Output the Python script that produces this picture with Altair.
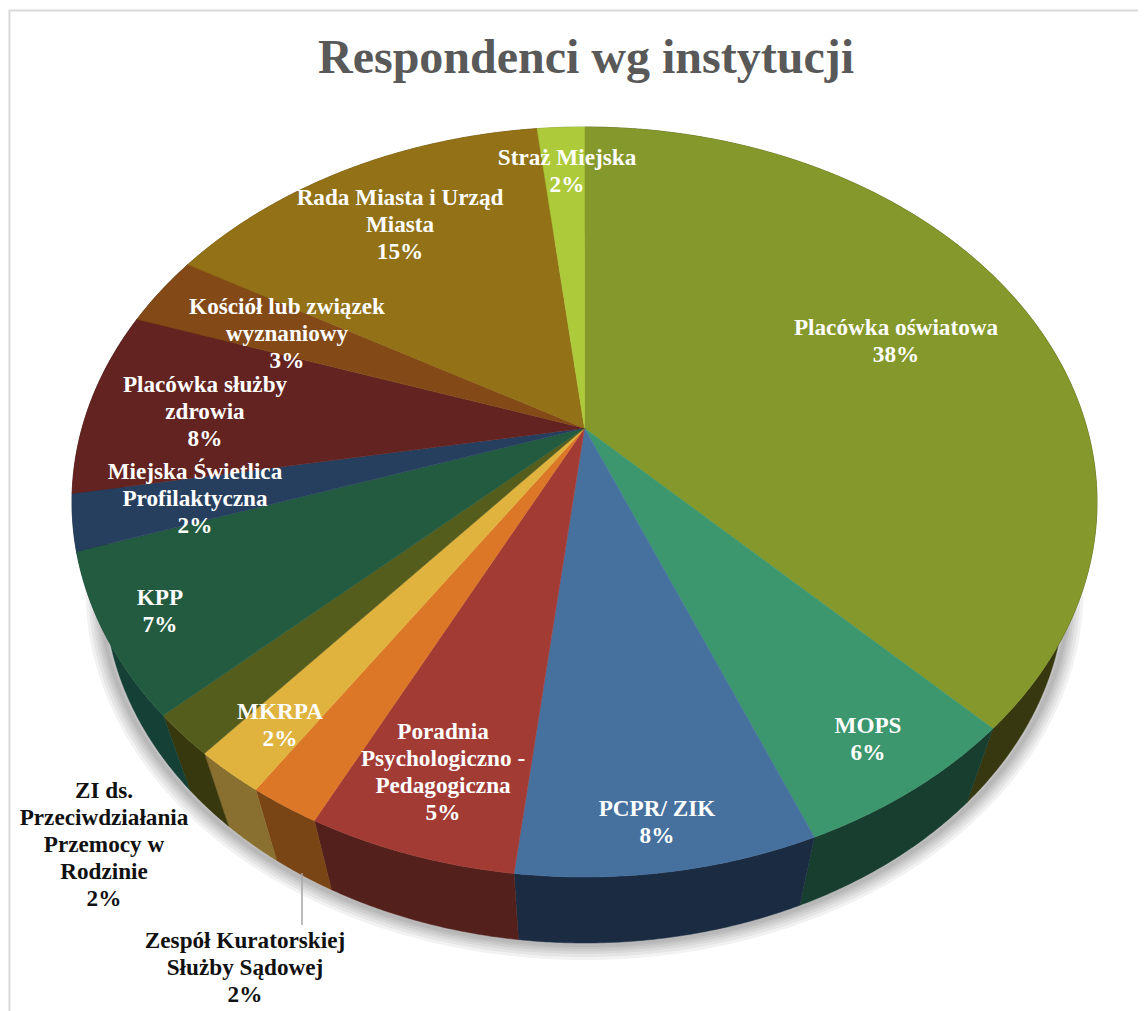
import math
import altair as alt
import pandas as pd

TITLE = "Respondenci wg instytucji"
names = ["Placówka oświatowa", "MOPS", "PCPR/ ZIK", "Poradnia\nPsychologiczno -\nPedagogiczna",
         "Zespół Kuratorskiej\nSłużby Sądowej", "ZI ds.\nPrzeciwdziałania\nPrzemocy w\nRodzinie", "MKRPA", "KPP",
         "Miejska Świetlica\nProfilaktyczna", "Placówka służby\nzdrowia", "Kościół lub związek\nwyznaniowy",
         "Rada Miasta i Urząd\nMiasta", "Straż Miejska"]
values = [37.7, 6.2, 7.9, 5.5, 1.9, 1.9, 1.8, 6.9, 2.4, 8.0, 3.1, 14.9, 1.8]
percent_labels = ["38%", "6%", "8%", "5%", "2%", "2%", "2%", "7%", "2%", "8%", "3%", "15%", "2%"]
top_colors = ["#85982b", "#3c966e", "#46719f", "#a33b35", "#db7727", "#e0b33f", "#555d1d",
              "#235b40", "#263f5f", "#632320", "#834a17", "#927117", "#adca3a"]
side_colors = ["#37380f", "#173e2f", "#1b2c42", "#53201b", "#7a4515", "#8a7030", "#38380f",
               "#154036", "#14243a", "#3f1512", "#4c2b0d", "#55420d", "#65761f"]
label_x = [896, 868, 657, 443, 245, 104, 280, 160, 195, 205, 287, 400, 567]
label_y = [328, 726, 809, 732, 941, 791, 712, 598, 472, 385, 307, 198, 158]
label_colors = ["white", "white", "white", "white", "#111111", "#111111", "white", "white", "white", "white",
                "white", "white", "white"]

PAGE = 8
W, H = 1130, 1003
CX, CY, RX, RY = 584.5, 502.0, 512.5, 375.0
BCX, BCY, BRX, BRY = 584.5, 588.0, 480.0, 355.0
TILT = -0.197


def project(theta, cx, cy, rx, ry):
    """Circle angle (clockwise from the top) to the tilted disc, in perspective."""
    u, v = math.sin(theta), -math.cos(theta)
    d = 1 + TILT * v
    return cx + rx * u * math.sqrt(1 - TILT ** 2) / d, cy + ry * (v + TILT) / d


def arc(a0, a1, cx, cy, rx, ry):
    n = max(2, int((a1 - a0) / 0.006))
    return [project(a0 + (a1 - a0) * k / n, cx, cy, rx, ry) for k in range(n + 1)]


total = sum(values)
edges = [0.0]
for val in values:
    edges.append(edges[-1] + val / total * 2 * math.pi)

top_rows, side_rows = [], []
centre = (CX, CY + RY * TILT)
for s, (a0, a1) in enumerate(zip(edges[:-1], edges[1:])):
    pts = [centre] + arc(a0, a1, CX, CY, RX, RY) + [centre]
    for i, (x, y) in enumerate(pts):
        top_rows.append(dict(s=s, i=i, x=x, y=y, c=top_colors[s]))
    pts = arc(a0, a1, CX, CY, RX, RY) + arc(a0, a1, BCX, BCY, BRX, BRY)[::-1]
    pts.append(pts[0])
    for i, (x, y) in enumerate(pts):
        side_rows.append(dict(s=s, i=i, x=x, y=y, c=side_colors[s]))

shadow_rows = []
for i, (x, y) in enumerate(arc(0, 2 * math.pi, BCX, BCY + 2, BRX + 4, BRY)):
    shadow_rows.append(dict(i=i, x=x, y=y))

x_scale = alt.Scale(domain=[PAGE, PAGE + W], nice=False, zero=False)
y_scale = alt.Scale(domain=[PAGE + H, PAGE], nice=False, zero=False)
X = alt.X("x:Q", scale=x_scale, axis=None)
Y = alt.Y("y:Q", scale=y_scale, axis=None)

layers = []
border = pd.DataFrame([dict(x=9.5, y=1011, k=0), dict(x=9.5, y=10.5, k=1), dict(x=1146, y=10.5, k=2)])
layers.append(alt.Chart(border).mark_line(color="#d9d9d9", strokeWidth=2, clip=True).encode(x=X, y=Y, order="k:Q"))

shadow_df = pd.DataFrame(shadow_rows)
for width in [30, 24, 18, 13, 8, 4]:
    layers.append(alt.Chart(shadow_df).mark_line(color="#000000", opacity=0.05, strokeWidth=width)
                  .encode(x=X, y=Y, order="i:Q"))


def faces(rows):
    return alt.Chart(pd.DataFrame(rows)).mark_line(strokeWidth=0.5, interpolate="linear").encode(
        x=X, y=Y, order="i:Q", detail="s:N",
        fill=alt.Fill("c:N", scale=None, legend=None),
        color=alt.Color("c:N", scale=None, legend=None),
    )


layers.append(faces(side_rows))
layers.append(faces(top_rows))

leader = pd.DataFrame([dict(x=302, y=873, k=0), dict(x=302, y=925, k=1)])
layers.append(alt.Chart(leader).mark_line(color="#a6a6a6", strokeWidth=1.5).encode(x=X, y=Y, order="k:Q"))

labels = pd.DataFrame(dict(
    x=label_x, y=label_y, c=label_colors,
    t=[n + "\n" + p for n, p in zip(names, percent_labels)],
))
layers.append(alt.Chart(labels).mark_text(
    font="Liberation Serif", fontWeight="bold", fontSize=23.2, lineHeight=27, lineBreak="\n",
    align="center", baseline="middle").encode(
    x=X, y=Y, text="t:N", color=alt.Color("c:N", scale=None, legend=None)))

title = pd.DataFrame(dict(x=[586], y=[59], t=[TITLE]))
layers.append(alt.Chart(title).mark_text(
    font="Liberation Serif", fontWeight="bold", fontSize=48, color="#595959",
    align="center", baseline="middle").encode(x=X, y=Y, text="t:N"))

chart = alt.layer(*layers).properties(
    width=W, height=H, padding=0, autosize=alt.AutoSizeParams(type="none"),
    background="white",
).configure_view(stroke=None)

chart.save("out.html", embed_options={"renderer": "svg", "actions": False})
